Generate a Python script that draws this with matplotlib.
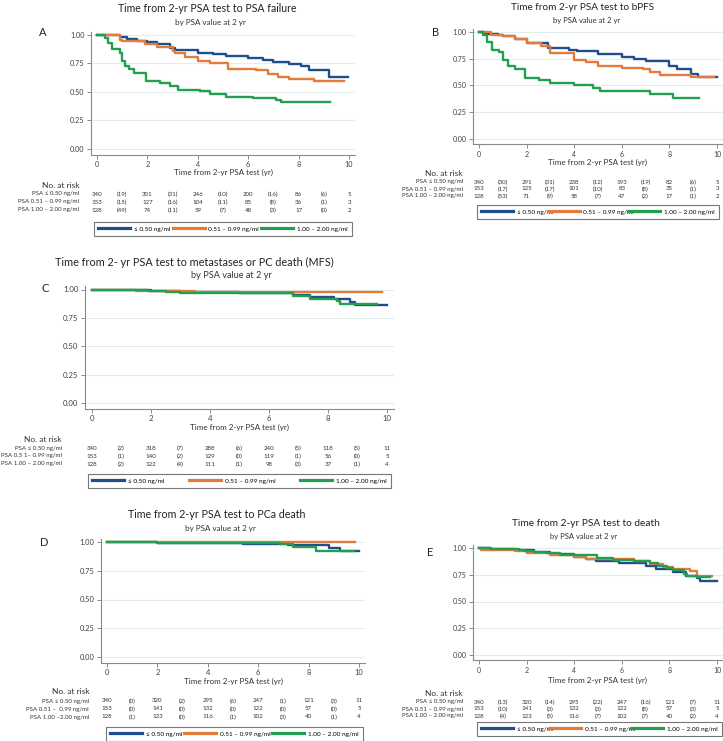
import matplotlib
matplotlib.use("Agg")
import matplotlib.pyplot as plt
import matplotlib.transforms as mtransforms
from matplotlib.lines import Line2D

plt.rcParams['font.family'] = ['Lato', 'DejaVu Sans']

W, H = 723, 741

# ---- curve data (time in yr, survival) ----
A_blue_t = [0, 0.9, 1.2, 1.6, 2.0, 2.4, 2.9, 3.1, 4.0, 4.6, 5.1, 6.0, 6.6, 7.0, 7.6, 8.1, 8.4, 9.2, 9.97]
A_blue_s = [1.00, 0.98, 0.965, 0.95, 0.935, 0.92, 0.89, 0.865, 0.845, 0.83, 0.815, 0.80, 0.78, 0.76, 0.745, 0.73, 0.69, 0.635, 0.635]
A_orange_t = [0, 0.9, 1.0, 1.9, 2.4, 3.0, 3.1, 3.5, 4.0, 4.5, 5.2, 6.3, 6.8, 7.2, 7.6, 8.6, 9.8]
A_orange_s = [1.00, 0.96, 0.945, 0.92, 0.895, 0.86, 0.84, 0.81, 0.77, 0.75, 0.705, 0.69, 0.66, 0.635, 0.615, 0.595, 0.595]
A_green_t = [0, 0.3, 0.45, 0.6, 0.9, 1.0, 1.1, 1.25, 1.45, 1.95, 2.5, 2.9, 3.2, 4.1, 4.5, 5.1, 6.2, 7.1, 7.3, 9.25]
A_green_s = [1.00, 0.97, 0.93, 0.875, 0.84, 0.77, 0.73, 0.70, 0.67, 0.595, 0.58, 0.55, 0.52, 0.51, 0.48, 0.46, 0.45, 0.43, 0.415, 0.415]

B_blue_t = [0, 0.2, 0.8, 1.0, 1.5, 2.0, 2.9, 3.8, 4.1, 5.0, 6.0, 6.5, 7.0, 8.0, 8.3, 8.9, 9.2, 10.0]
B_blue_s = [1.00, 0.98, 0.97, 0.96, 0.935, 0.90, 0.85, 0.83, 0.82, 0.79, 0.77, 0.75, 0.725, 0.685, 0.65, 0.61, 0.58, 0.58]
B_orange_t = [0, 0.5, 1.0, 1.5, 2.0, 2.6, 3.0, 4.0, 4.5, 5.0, 6.0, 6.9, 7.2, 7.6, 8.9, 9.86]
B_orange_s = [1.00, 0.975, 0.96, 0.93, 0.895, 0.87, 0.80, 0.74, 0.72, 0.685, 0.665, 0.65, 0.625, 0.60, 0.58, 0.58]
B_green_t = [0, 0.15, 0.35, 0.55, 0.85, 1.0, 1.2, 1.5, 1.95, 2.5, 3.0, 4.0, 4.8, 5.1, 7.2, 8.15, 9.23]
B_green_s = [1.00, 0.97, 0.91, 0.835, 0.81, 0.74, 0.68, 0.65, 0.57, 0.555, 0.52, 0.50, 0.475, 0.445, 0.42, 0.38, 0.38]

C_blue_t = [0, 1.0, 2.0, 3.0, 4.0, 5.0, 6.0, 6.8, 7.4, 8.2, 8.75, 8.9, 10.0]
C_blue_s = [1.00, 0.995, 0.99, 0.98, 0.975, 0.97, 0.965, 0.95, 0.935, 0.92, 0.89, 0.86, 0.86]
C_orange_t = [0, 1.5, 3.5, 6.0, 9.83]
C_orange_s = [1.00, 0.99, 0.98, 0.975, 0.975]
C_green_t = [0, 1.9, 2.5, 3.0, 6.8, 7.4, 8.3, 8.4, 9.66]
C_green_s = [1.00, 0.99, 0.98, 0.97, 0.945, 0.92, 0.90, 0.875, 0.875]

D_blue_t = [0, 2.0, 4.5, 5.4, 7.2, 8.8, 9.25, 10.0]
D_blue_s = [1.00, 0.995, 0.99, 0.985, 0.97, 0.945, 0.92, 0.92]
D_orange_t = [0, 9.83]
D_orange_s = [1.00, 1.00]
D_green_t = [0, 2.0, 6.85, 7.4, 8.3, 9.8]
D_green_s = [1.00, 0.99, 0.985, 0.955, 0.925, 0.925]

E_blue_t = [0, 0.5, 1.5, 2.3, 3.0, 4.0, 4.5, 4.9, 5.9, 7.0, 7.45, 8.15, 8.7, 9.15, 9.3, 10.0]
E_blue_s = [1.00, 0.99, 0.98, 0.96, 0.94, 0.92, 0.90, 0.88, 0.86, 0.83, 0.80, 0.78, 0.74, 0.715, 0.695, 0.695]
E_orange_t = [0, 0.1, 1.5, 2.0, 3.0, 4.0, 4.5, 4.8, 6.5, 7.2, 7.75, 8.15, 8.85, 9.15, 9.79]
E_orange_s = [1.00, 0.985, 0.97, 0.95, 0.93, 0.92, 0.90, 0.893, 0.878, 0.848, 0.826, 0.808, 0.786, 0.74, 0.74]
E_green_t = [0, 0.5, 1.7, 1.9, 2.3, 2.8, 3.4, 4.95, 5.65, 6.5, 7.2, 7.5, 7.9, 8.15, 8.6, 8.75, 9.15, 9.7]
E_green_s = [1.00, 0.99, 0.985, 0.975, 0.96, 0.95, 0.93, 0.905, 0.89, 0.875, 0.86, 0.83, 0.81, 0.79, 0.76, 0.74, 0.725, 0.725]

# ---- number at risk tables ----
A_risk = [["340", "(19)", "301", "(31)", "246", "(10)", "200", "(16)", "86", "(6)", "5"],
          ["153", "(15)", "127", "(16)", "104", "(11)", "85", "(8)", "36", "(1)", "3"],
          ["128", "(49)", "74", "(11)", "59", "(7)", "48", "(3)", "17", "(0)", "2"]]
B_risk = [["340", "(30)", "291", "(31)", "238", "(12)", "193", "(19)", "82", "(6)", "5"],
          ["153", "(17)", "125", "(17)", "101", "(10)", "83", "(8)", "35", "(1)", "3"],
          ["128", "(53)", "71", "(9)", "58", "(7)", "47", "(2)", "17", "(1)", "2"]]
C_risk = [["340", "(2)", "318", "(7)", "288", "(6)", "240", "(5)", "118", "(5)", "11"],
          ["153", "(1)", "140", "(2)", "129", "(0)", "119", "(1)", "56", "(0)", "5"],
          ["128", "(2)", "122", "(4)", "111", "(1)", "98", "(3)", "37", "(1)", "4"]]
D_risk = [["340", "(0)", "320", "(2)", "295", "(6)", "247", "(1)", "121", "(3)", "11"],
          ["153", "(0)", "141", "(0)", "132", "(0)", "122", "(0)", "57", "(0)", "5"],
          ["128", "(1)", "123", "(0)", "116", "(1)", "102", "(3)", "40", "(1)", "4"]]
E_risk = [["340", "(13)", "320", "(14)", "295", "(22)", "247", "(16)", "121", "(7)", "11"],
          ["153", "(10)", "141", "(3)", "132", "(3)", "122", "(8)", "57", "(3)", "5"],
          ["128", "(4)", "123", "(5)", "116", "(7)", "102", "(7)", "40", "(2)", "4"]]

row_labels = ["PSA \u2264 0.50 ng/ml", "PSA 0.51 \u2013 0.99 ng/ml", "PSA 1.00 \u2013 2.00 ng/ml"]
C_row_labels = ["PSA \u2264 0.50 ng/ml", "PSA 0.5 1\u2013 0.99 ng/ml", "PSA 1.00 \u2013 2.00 ng/ml"]
D_row_labels = ["PSA \u2264 0.50 ng/ml", "PSA 0.51 \u2013  0.99 ng/ml", "PSA 1.00 \u20132.00 ng/ml"]
legend_labels = ["\u2264 0.50 ng/ml", "0.51 \u2013 0.99 ng/ml", "1.00 \u2013 2.00 ng/ml"]
colors = ["#1f4e8c", "#e47b3a", "#23a04f"]
risk_times = list(range(11))

fig = plt.figure(figsize=(W / 100, H / 100), dpi=100)


def fx(px):
    return px / W


def fy(py):
    return 1 - py / H


def panel(curves, risk, labels, letter, title, sub, x0, x10, y1, y0,
          tsize=7.5, ssize=5.8, ksize=5.2, lab_x=0, title_x=0, sub_x=None, title_y=0, sub_y=0,
          xl_y=0, nar_y=0, rows_y=(), leg=(0, 0, 0, 0), letter_xy=(0, 0)):
    xpu = (x10 - x0) / 10.0
    ypu = (y0 - y1)
    lo_x, hi_x = -0.25, 10.25
    lo_y, hi_y = -0.05, 1.03
    left = x0 + lo_x * xpu
    right = x0 + hi_x * xpu
    top = y0 - hi_y * ypu
    bot = y0 - lo_y * ypu
    ax = fig.add_axes([fx(left), fy(bot), fx(right - left), (bot - top) / H])
    ax.set_xlim(lo_x, hi_x)
    ax.set_ylim(lo_y, hi_y)
    handles = []
    for (t, s), c in zip(curves, colors):
        ax.step(t, s, where='post', color=c, lw=1.7, zorder=3)
        handles.append(Line2D([], [], color=c, lw=2.3))
    ax.set_yticks([0, 0.25, 0.5, 0.75, 1.0])
    ax.set_yticklabels(["0.00", "0.25", "0.50", "0.75", "1.00"])
    ax.set_xticks([0, 2, 4, 6, 8, 10])
    ax.grid(axis='y', color='#e2eeee', lw=0.8, zorder=0)
    for sp in ['top', 'right']:
        ax.spines[sp].set_visible(False)
    for sp in ['left', 'bottom']:
        ax.spines[sp].set_color('#8a8a8a')
        ax.spines[sp].set_linewidth(0.8)
    ax.tick_params(length=3, width=0.7, color='#8a8a8a', labelsize=ksize,
                   labelcolor='#404040', pad=1.5)

    xc = (left + right) / 2
    if sub_x is None:
        sub_x = title_x
    fig.text(fx(title_x), fy(title_y), title, ha='center', va='center', fontsize=tsize, color='#222222')
    fig.text(fx(sub_x), fy(sub_y), sub, ha='center', va='center', fontsize=ssize, color='#333333')
    fig.text(fx(letter_xy[0]), fy(letter_xy[1]), letter, ha='center', va='center', fontsize=8, color='#222222')
    fig.text(fx(xc), fy(xl_y), "Time from 2-yr PSA test (yr)", ha='center', va='center',
             fontsize=5.8, color='#333333')

    tr = mtransforms.blended_transform_factory(ax.transData, fig.transFigure)
    fig.text(fx(lab_x), fy(nar_y), "No. at risk", ha='right', va='center', fontsize=6, color='#333333')
    for row, lab, ry in zip(risk, labels, rows_y):
        fig.text(fx(lab_x), fy(ry), lab, ha='right', va='center', fontsize=4.4, color='#333333')
        for tt, val in zip(risk_times, row):
            ax.text(tt, fy(ry), val, transform=tr, ha='center', va='center',
                    fontsize=4.4, color='#333333', clip_on=False)

    lx0, ly0, lx1, ly1 = leg
    lg = fig.legend(handles, legend_labels, ncol=3, loc='lower left',
                    bbox_to_anchor=(fx(lx0), fy(ly1), fx(lx1 - lx0), (ly1 - ly0) / H),
                    mode='expand', fontsize=4.6, handlelength=5, handletextpad=0.6,
                    frameon=True, fancybox=False, borderpad=0.7, borderaxespad=0,
                    columnspacing=1.0)
    lg.get_frame().set_edgecolor('#555555')
    lg.get_frame().set_linewidth(0.8)
    return ax


panel([(A_blue_t, A_blue_s), (A_orange_t, A_orange_s), (A_green_t, A_green_s)],
      A_risk, row_labels, "A", "Time from 2-yr PSA test to PSA failure", "by PSA value at 2 yr",
      97, 349, 35, 149, tsize=7.6, ssize=5.8, ksize=5.2, lab_x=79, title_x=207, sub_x=210, title_y=8, sub_y=23,
      xl_y=172, nar_y=185, rows_y=(194, 202, 210), leg=(94, 221, 352, 236), letter_xy=(43, 32))

panel([(B_blue_t, B_blue_s), (B_orange_t, B_orange_s), (B_green_t, B_green_s)],
      B_risk, row_labels, "B", "Time from 2-yr PSA test to bPFS", "by PSA value at 2 yr",
      479, 717, 32, 139, tsize=7.2, ssize=5.5, ksize=5.0, lab_x=463, title_x=583, sub_x=587, title_y=7, sub_y=21,
      xl_y=162, nar_y=174, rows_y=(182, 189, 196), leg=(477, 206, 719, 219), letter_xy=(436, 32))

panel([(C_blue_t, C_blue_s), (C_orange_t, C_orange_s), (C_green_t, C_green_s)],
      C_risk, C_row_labels, "C", "Time from 2- yr PSA test to metastases or PC death (MFS)", "by PSA value at 2 yr",
      92, 387, 289.5, 403, tsize=7.8, ssize=6.6, ksize=5.6, lab_x=62, title_x=194, sub_x=231, title_y=262, sub_y=276,
      xl_y=427, nar_y=439, rows_y=(448, 456, 464), leg=(88, 471, 391, 488), letter_xy=(45, 289))

panel([(D_blue_t, D_blue_s), (D_orange_t, D_orange_s), (D_green_t, D_green_s)],
      D_risk, D_row_labels, "D", "Time from 2-yr PSA test to PCa death", "by PSA value at 2 yr",
      107, 359, 542, 657, tsize=7.7, ssize=5.8, ksize=5.4, lab_x=89, title_x=217, sub_x=220, title_y=515, sub_y=529,
      xl_y=681, nar_y=692, rows_y=(701, 709, 717), leg=(106, 727, 363, 741), letter_xy=(44, 542))

panel([(E_blue_t, E_blue_s), (E_orange_t, E_orange_s), (E_green_t, E_green_s)],
      E_risk, row_labels, "E", "Time from 2-yr PSA test to death", "by PSA value at 2 yr",
      479, 717, 548, 655, tsize=7.3, ssize=5.5, ksize=5.0, lab_x=463, title_x=586, sub_x=584, title_y=523, sub_y=537,
      xl_y=680, nar_y=693, rows_y=(702, 709, 716), leg=(477, 722, 722, 736), letter_xy=(430, 552))

fig.savefig("out.png", dpi=100)
